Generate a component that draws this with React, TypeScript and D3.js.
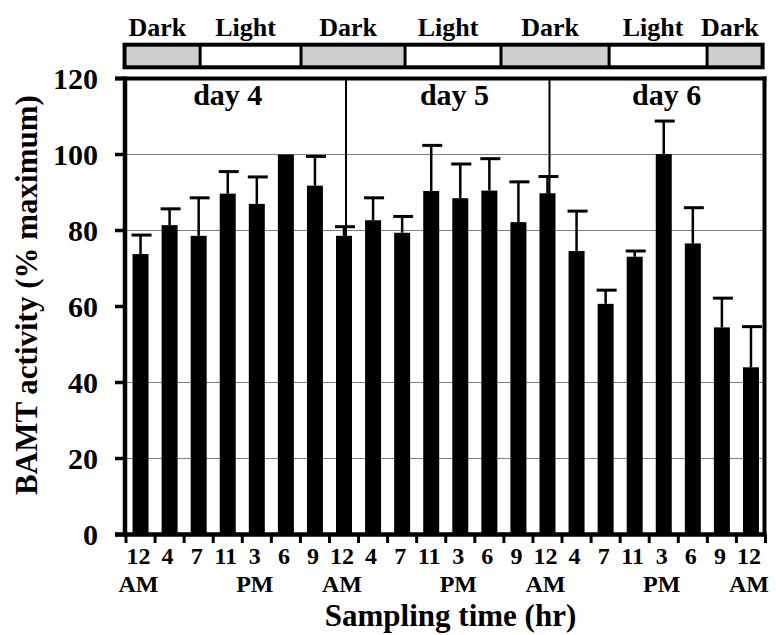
import React from "react";
import * as d3 from "d3";

// ---- data ----
const timeLabels = ["12", "4", "7", "11", "3", "6", "9", "12", "4", "7", "11", "3", "6", "9", "12", "4", "7", "11", "3", "6", "9", "12"];
const meridiem = ["AM", "", "", "", "PM", "", "", "AM", "", "", "", "PM", "", "", "AM", "", "", "", "PM", "", "", "AM"];
const activity = [73.8, 81.4, 78.6, 89.7, 87.0, 100, 91.8, 78.6, 82.7, 79.4, 90.4, 88.5, 90.5, 82.2, 89.8, 74.6, 60.7, 73.1, 100.1, 76.6, 54.5, 44.0];
const errorUp = [5.0, 4.3, 10.0, 5.8, 7.1, 0, 7.7, 2.4, 5.9, 4.3, 12.0, 9.0, 8.4, 10.6, 4.4, 10.5, 3.6, 1.5, 8.7, 9.4, 7.7, 10.7];
const yTicks = [0, 20, 40, 60, 80, 100, 120];
const gridValues = [20, 40, 80, 100];
// photoperiod segments in units of sample index
const periodLabels = ["Dark", "Light", "Dark", "Light", "Dark", "Light", "Dark"];
const periodStart = [-0.55, 2.05, 5.52, 9.1, 12.4, 16.12, 19.49];
const periodEnd = [2.05, 5.52, 9.1, 12.4, 16.12, 19.49, 21.4];
const dayLabels = ["day 4", "day 5", "day 6"];
const dayLabelPos = [3.0, 10.8, 18.1];
const dayDividers = [7, 14];

const W = 776;
const H = 635;
const FONT = '"Liberation Serif", "DejaVu Serif", serif';

export default function App() {
  const idx = activity.map((_, i) => i);
  const x = d3.scaleBand<number>().domain(idx).range([126, 765.5]).paddingInner(0.45).paddingOuter(0.225);
  const xi = d3.scaleLinear().domain([-0.5, 21.5]).range([126, 765.5]);
  const y = d3.scaleLinear().domain([0, 120]).range([534.5, 78.5]);
  const bw = x.bandwidth();
  const left = 125;
  const right = 764.5;
  const ts: React.CSSProperties = { fontFamily: FONT, fontWeight: 700 };

  return (
    <svg width={W} height={H} style={{ position: "absolute", left: 0, top: 0, background: "#fff", fontFamily: FONT, fontWeight: 700 }}>
      {/* photoperiod bar */}
      <g>
        {periodLabels.map((lab, i) => (
          <rect key={"p" + i} x={xi(periodStart[i])} y={44.7} width={xi(periodEnd[i]) - xi(periodStart[i])} height={22.6}
            fill={lab === "Dark" ? "#cfcfcf" : "#ffffff"} />
        ))}
        {periodStart.slice(1).map((s, i) => (
          <line key={"ps" + i} x1={xi(s)} x2={xi(s)} y1={44.7} y2={67.3} stroke="#000" strokeWidth={3} />
        ))}
        <rect x={xi(periodStart[0])} y={44.7} width={xi(periodEnd[periodEnd.length - 1]) - xi(periodStart[0])} height={22.6}
          fill="none" stroke="#000" strokeWidth={4} />
        {periodLabels.map((lab, i) => (
          <text key={"pl" + i} style={ts} x={(xi(periodStart[i]) + xi(periodEnd[i])) / 2 - 5} y={35.5} fontSize={26} textAnchor="middle" fill="#000">
            {lab}
          </text>
        ))}
      </g>

      {/* gridlines */}
      {gridValues.map((v) => (
        <line key={"g" + v} x1={left} x2={right} y1={y(v)} y2={y(v)} stroke="#808080" strokeWidth={1} />
      ))}

      {/* day dividers */}
      {dayDividers.map((d) => (
        <line key={"d" + d} x1={xi(d) + 2} x2={xi(d) + 2} y1={y(120)} y2={y(0)} stroke="#000" strokeWidth={2} />
      ))}

      {/* day labels */}
      {dayLabels.map((lab, i) => (
        <text key={"dl" + i} style={ts} x={xi(dayLabelPos[i])} y={105} fontSize={30} textAnchor="middle" fill="#000">
          {lab}
        </text>
      ))}

      {/* bars */}
      {activity.map((v, i) => (
        <rect key={"b" + i} x={x(i)} y={y(v)} width={bw} height={y(0) - y(v)} fill="#000" />
      ))}

      {/* error bars */}
      {activity.map((v, i) => {
        const e = errorUp[i];
        if (!e) return null;
        const cx = (x(i) as number) + bw / 2;
        return (
          <g key={"e" + i}>
            <line x1={cx} x2={cx} y1={y(v)} y2={y(v + e)} stroke="#000" strokeWidth={2.5} />
            <line x1={cx - 9} x2={cx + 11} y1={y(v + e)} y2={y(v + e)} stroke="#000" strokeWidth={3} />
          </g>
        );
      })}

      {/* frame */}
      <line x1={115} x2={right + 2} y1={y(120)} y2={y(120)} stroke="#000" strokeWidth={4} />
      <line x1={115} x2={right + 2} y1={y(0)} y2={y(0)} stroke="#000" strokeWidth={4.5} />
      <line x1={left} x2={left} y1={y(120) - 2} y2={y(0) + 2} stroke="#000" strokeWidth={4.5} />
      <line x1={right} x2={right} y1={y(120) - 2} y2={y(0) + 2} stroke="#000" strokeWidth={4} />

      {/* y ticks */}
      {yTicks.map((v) => (
        <g key={"yt" + v}>
          <line x1={115} x2={left} y1={y(v)} y2={y(v)} stroke="#000" strokeWidth={3.5} />
          <text style={ts} x={98} y={y(v) + 10.5} fontSize={30} textAnchor="end" fill="#000">
            {v}
          </text>
        </g>
      ))}

      {/* x ticks at band boundaries */}
      {d3.range(0, activity.length + 1).map((b) => (
        <line key={"xt" + b} x1={xi(b - 0.5)} x2={xi(b - 0.5)} y1={y(0)} y2={543} stroke="#000" strokeWidth={3} />
      ))}

      {/* x tick labels */}
      {timeLabels.map((t, i) => {
        const cx = (x(i) as number) + bw / 2 - 2;
        return (
          <g key={"xl" + i}>
            <text style={ts} x={cx} y={563.5} fontSize={24} textAnchor="middle" fill="#000">{t}</text>
            {meridiem[i] && (
              <text style={ts} x={cx} y={591.5} fontSize={24} textAnchor="middle" fill="#000">{meridiem[i]}</text>
            )}
          </g>
        );
      })}

      {/* axis titles */}
      <text style={ts} x={450.5} y={626} fontSize={31} textAnchor="middle" fill="#000">Sampling time (hr)</text>
      <text style={ts} transform={`translate(37,295) rotate(-90)`} fontSize={31} textAnchor="middle" fill="#000">
        BAMT activity (% maximum)
      </text>
    </svg>
  );
}
